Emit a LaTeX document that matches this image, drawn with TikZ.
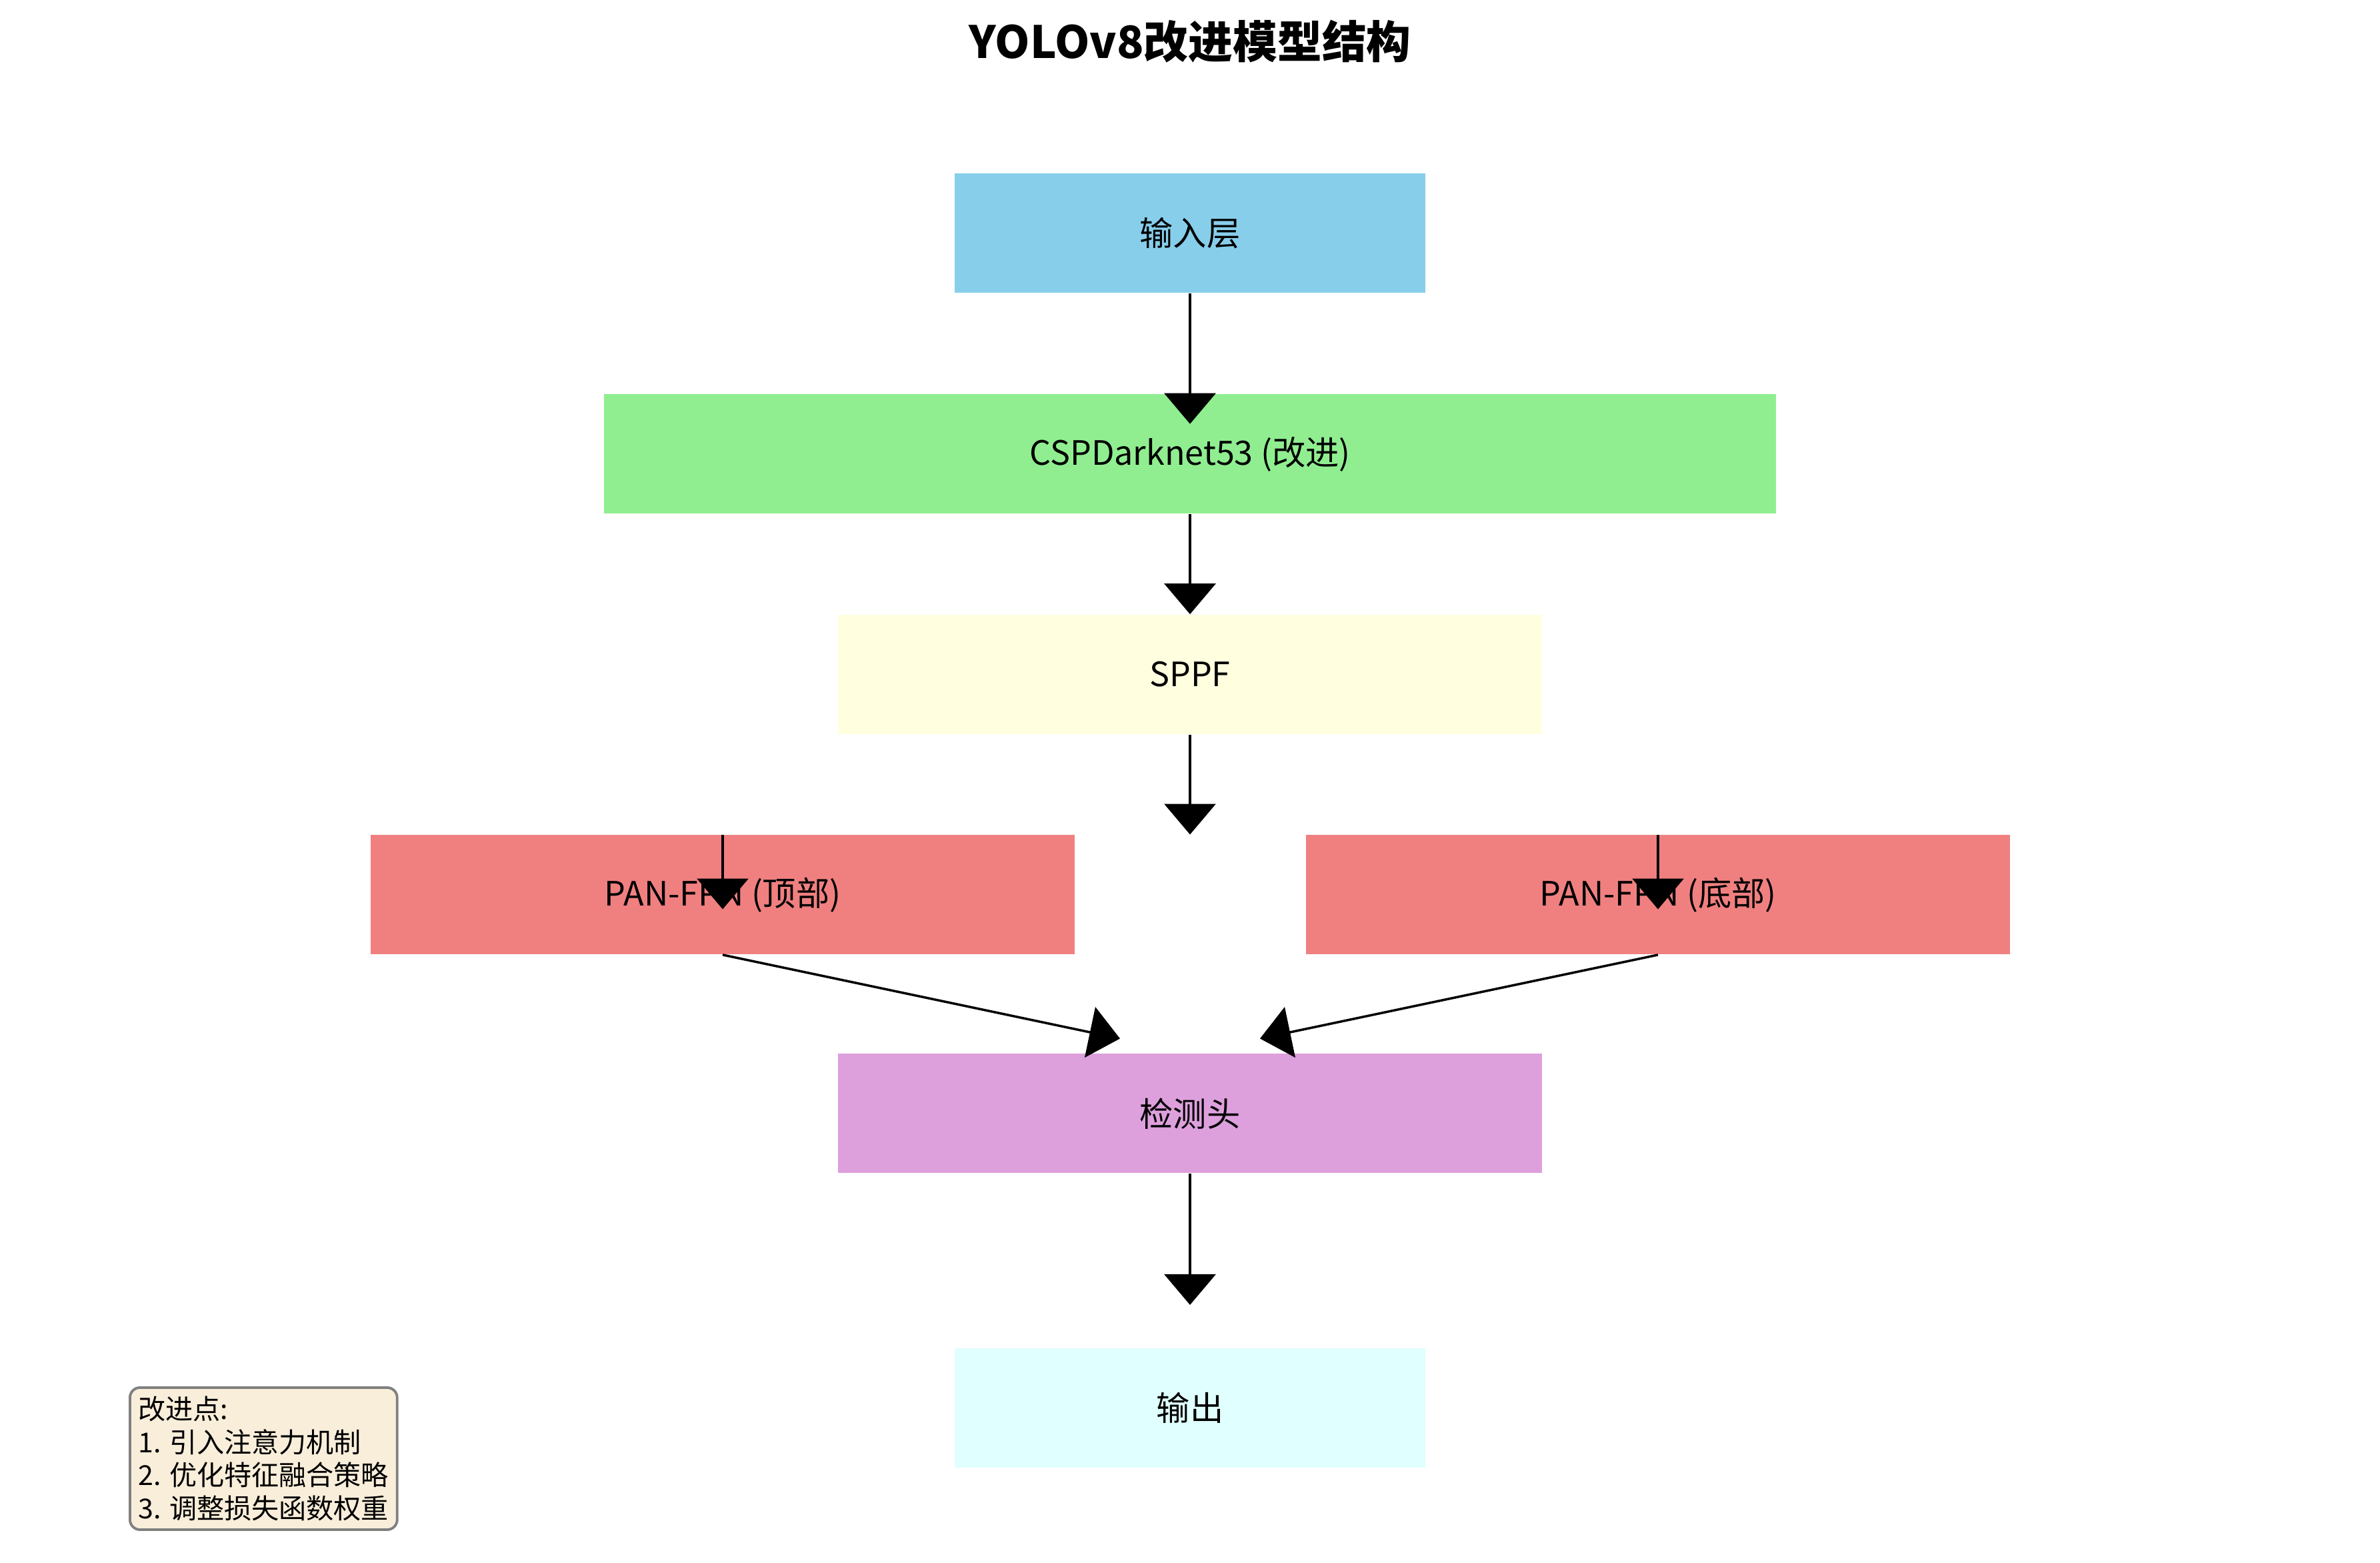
\documentclass[tikz,border=0pt]{standalone}
\usepackage{fontspec}
\setmainfont{Noto Sans CJK SC}
\usepackage{tikz}
\usetikzlibrary{positioning,arrows.meta}
\definecolor{incol}{HTML}{87CEEB}
\definecolor{cspcol}{HTML}{90EE90}
\definecolor{sppfcol}{HTML}{FFFFE0}
\definecolor{pancol}{HTML}{F08080}
\definecolor{headcol}{HTML}{DDA0DD}
\definecolor{outcol}{HTML}{E0FFFF}
\definecolor{notecol}{RGB}{248,238,218}

\begin{document}
\begin{tikzpicture}[
  every node/.style={font=\fontsize{14.3}{17}\selectfont},
  blk/.style={minimum height=17.9mm, inner sep=0pt, align=center},
  arr/.style={-{Triangle[width=7.7mm, length=4.6mm]}, line width=1pt, draw=black}
]
\useasboundingbox[fill=white] (0,0) rectangle (35.7,-23.43);

% Title
\node[font=\fontsize{19}{23}\selectfont\bfseries] (title) at (17.85,-0.62) {YOLOv8改进模型结构};

% Main column
\node[blk, fill=incol, minimum width=70.6mm] (in) at (17.85,-3.495) {输入层};
\node[blk, fill=cspcol, minimum width=175.8mm, below=15.1mm of in] (csp) {CSPDarknet53 (改进)};
\node[blk, fill=sppfcol, minimum width=105.6mm, below=15.0mm of csp] (sppf) {SPPF};

% Neck: two PAN-FPN branches
\node[blk, fill=pancol, minimum width=105.6mm, below=15.0mm of sppf, xshift=-70.1mm] (pantop) {PAN-FPN (顶部)};
\node[blk, fill=pancol, minimum width=105.6mm, below=15.0mm of sppf, xshift=70.2mm] (panbot) {PAN-FPN (底部)};

% Head and output
\node[blk, fill=headcol, minimum width=105.6mm, below=47.8mm of sppf] (head) {检测头};
\node[blk, fill=outcol, minimum width=70.6mm, below=26.1mm of head] (out) {输出};

% Note
\node[draw=gray, line width=1.1pt, fill=notecol, rounded corners=1.5mm, align=left, anchor=north west,
  inner sep=3.6pt, font=\fontsize{11.7}{14.2}\selectfont] (note) at (1.93,-20.79)
  {改进点:\\1. 引入注意力机制\\2. 优化特征融合策略\\3. 调整损失函数权重};

% Free arrow ends
\coordinate (cspin) at ([yshift=-4.5mm]csp.north);
\coordinate (sppfout) at (sppf.south |- pantop.north);
\coordinate (topin) at ([yshift=-11.2mm]pantop.north);
\coordinate (botin) at ([yshift=-11.2mm]panbot.north);
\coordinate (headl) at ([xshift=-10.5mm, yshift=2.2mm]head.north);
\coordinate (headr) at ([xshift=10.5mm, yshift=2.2mm]head.north);
\coordinate (outin) at ([yshift=6.4mm]out.north);

% Connectors
\draw[arr] (in.south) -- (cspin);
\draw[arr] (csp.south) -- (sppf.north);
\draw[arr] (sppf.south) -- (sppfout);
\draw[arr] (pantop.north) -- (topin);
\draw[arr] (panbot.north) -- (botin);
\draw[arr] (pantop.south) -- (headl);
\draw[arr] (panbot.south) -- (headr);
\draw[arr] (head.south) -- (outin);
\end{tikzpicture}
\end{document}
